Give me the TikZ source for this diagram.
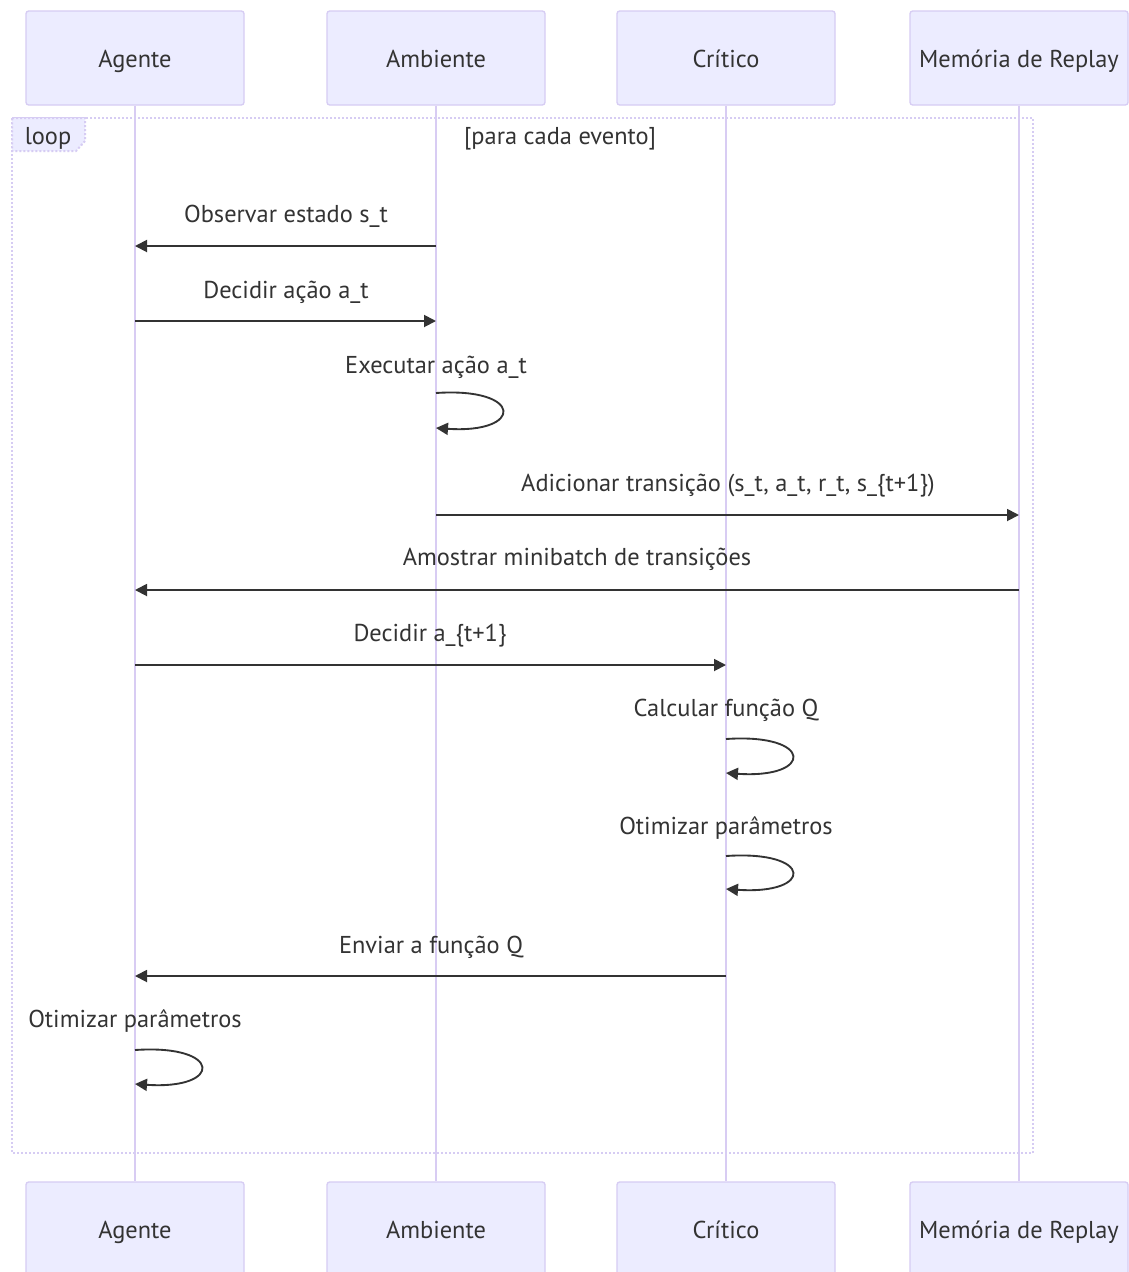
\documentclass[tikz,border=0pt]{standalone}
\usepackage{fontspec}
\setmainfont{PT Sans}
\usetikzlibrary{arrows.meta}
\definecolor{actorfill}{HTML}{ECECFF}
\definecolor{actorline}{HTML}{D6CCF3}
\definecolor{lifeline}{HTML}{D8CCF3}
\definecolor{ink}{HTML}{333333}
\begin{document}
\begin{tikzpicture}[x=0.75pt,y=-0.75pt,
  txt/.style={font=\fontsize{18.3}{20}\selectfont,text=ink},
  actor/.style={txt,draw=actorline,line width=1pt,fill=actorfill,rounded corners=2pt,
    minimum width=218*0.75pt,minimum height=94*0.75pt,inner sep=0pt,
    text height=14.5pt,text depth=1pt},
  life/.style={draw=lifeline,line width=1.5pt},
  msg/.style={draw=ink,line width=1.4pt,-{Triangle[length=9pt,width=9pt]}},
  lbl/.style={txt,inner sep=0pt,anchor=base},
  loopframe/.style={draw=actorline,line width=1.5pt,dash pattern=on 1.5pt off 1.5pt},
]
\useasboundingbox (0,0) rectangle (1129,1272);
\fill[white] (0,0) rectangle (1129,1272);

% participants, top and bottom
\node[actor] (agT) at (135,58)  {Agente};
\node[actor] (amT) at (436,58)  {Ambiente};
\node[actor] (crT) at (726,58)  {Crítico};
\node[actor] (meT) at (1019,58) {Memória de Replay};
\node[actor] (agB) at (135,1229)  {Agente};
\node[actor] (amB) at (436,1229)  {Ambiente};
\node[actor] (crB) at (726,1229)  {Crítico};
\node[actor] (meB) at (1019,1229) {Memória de Replay};

% lifelines
\foreach \p in {ag,am,cr,me}{
  \draw[life] (\p T.south) -- (\p B.north);
}

% loop frame
\draw[loopframe] (12,118) rectangle (1033,1153);
\draw[loopframe,fill=actorfill] (12,118) -- (85,118) -- (85,141) -- (76,151) -- (12,151) -- cycle;
\node[lbl] (looptag) at (48,144) {loop};
\node[lbl] (loopcond) at (560,144) {[para cada evento]};

% message rows: points on the lifelines
\coordinate (m1a) at (436,246);  \coordinate (m1b) at (135,246);
\coordinate (m2a) at (135,321);  \coordinate (m2b) at (436,321);
\coordinate (m3a) at (436,393);  \coordinate (m3b) at (436,428);
\coordinate (m4a) at (436,515);  \coordinate (m4b) at (1019,515);
\coordinate (m5a) at (1019,590); \coordinate (m5b) at (135,590);
\coordinate (m6a) at (135,665);  \coordinate (m6b) at (726,665);
\coordinate (m7a) at (726,739);  \coordinate (m7b) at (726,773);
\coordinate (m8a) at (726,856);  \coordinate (m8b) at (726,889);
\coordinate (m9a) at (726,976);  \coordinate (m9b) at (135,976);
\coordinate (m10a) at (135,1050); \coordinate (m10b) at (135,1084);

% labels
\node[lbl] (t1) at (286,222)  {Observar estado s\_t};
\node[lbl] (t2) at (286,298)  {Decidir ação a\_t};
\node[lbl] (t3) at (436,373)  {Executar ação a\_t};
\node[lbl] (t4) at (728,491)  {Adicionar transição (s\_t, a\_t, r\_t, s\_\{t+1\})};
\node[lbl] (t5) at (577,565)  {Amostrar minibatch de transições};
\node[lbl] (t6) at (430,641)  {Decidir a\_\{t+1\}};
\node[lbl] (t7) at (726,716)  {Calcular função Q};
\node[lbl] (t8) at (726,834)  {Otimizar parâmetros};
\node[lbl] (t9) at (431,953)  {Enviar a função Q};
\node[lbl] (t10) at (135,1027) {Otimizar parâmetros};

% messages
\draw[msg] (m1a) -- (m1b);
\draw[msg] (m2a) -- (m2b);
\draw[msg] (m3a) .. controls ++(88,-6) and ++(88,6) .. (m3b);
\draw[msg] (m4a) -- (m4b);
\draw[msg] (m5a) -- (m5b);
\draw[msg] (m6a) -- (m6b);
\draw[msg] (m7a) .. controls ++(88,-6) and ++(88,6) .. (m7b);
\draw[msg] (m8a) .. controls ++(88,-6) and ++(88,6) .. (m8b);
\draw[msg] (m9a) -- (m9b);
\draw[msg] (m10a) .. controls ++(88,-6) and ++(88,6) .. (m10b);
\end{tikzpicture}
\end{document}
